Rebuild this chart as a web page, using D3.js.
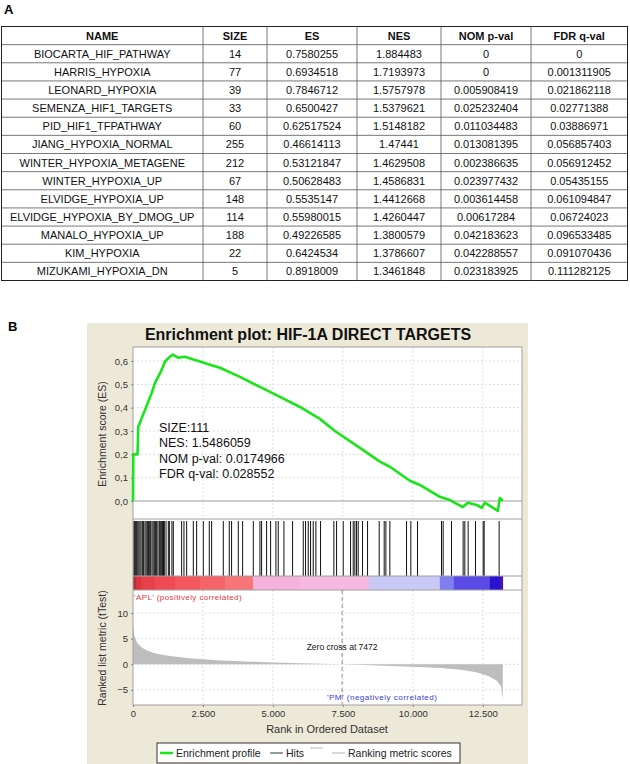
<!DOCTYPE html>
<html>
<head>
<meta charset="utf-8">
<script src="https://cdn.jsdelivr.net/npm/d3@7"></script>
<style>
  body { margin: 0; background: #fff; }
  svg { display: block; font-family: "Liberation Sans", Arial, sans-serif; }
</style>
</head>
<body>
<svg width="630" height="764"></svg>
<script>
// ---- table data (panel A)
const tableHeaders = ['NAME', 'SIZE', 'ES', 'NES', 'NOM p-val', 'FDR q-val'];
const setNames = ['BIOCARTA_HIF_PATHWAY', 'HARRIS_HYPOXIA', 'LEONARD_HYPOXIA', 'SEMENZA_HIF1_TARGETS',
  'PID_HIF1_TFPATHWAY', 'JIANG_HYPOXIA_NORMAL', 'WINTER_HYPOXIA_METAGENE', 'WINTER_HYPOXIA_UP',
  'ELVIDGE_HYPOXIA_UP', 'ELVIDGE_HYPOXIA_BY_DMOG_UP', 'MANALO_HYPOXIA_UP', 'KIM_HYPOXIA', 'MIZUKAMI_HYPOXIA_DN'];
const setSizes = [14, 77, 39, 33, 60, 255, 212, 67, 148, 114, 188, 22, 5];
const setES = [0.7580255, 0.6934518, 0.7846712, 0.6500427, 0.62517524, 0.46614113, 0.53121847,
  0.50628483, 0.5535147, 0.55980015, 0.49226585, 0.6424534, 0.8918009];
const setNES = [1.884483, 1.7193973, 1.5757978, 1.5379621, 1.5148182, 1.47441, 1.4629508,
  1.4586831, 1.4412668, 1.4260447, 1.3800579, 1.3786607, 1.3461848];
const setNomP = [0, 0, 0.005908419, 0.025232404, 0.011034483, 0.013081395, 0.002386635,
  0.023977432, 0.003614458, 0.00617284, 0.042183623, 0.042288557, 0.023183925];
const setFdrQ = [0, 0.001311905, 0.021862118, 0.02771388, 0.03886971, 0.056857403, 0.056912452,
  0.05435155, 0.061094847, 0.06724023, 0.096533485, 0.091070436, 0.111282125];

// ---- enrichment plot data (panel B)
const plotTitle = 'Enrichment plot: HIF-1A DIRECT TARGETS';
const statLines = ['SIZE:111', 'NES: 1.5486059', 'NOM p-val: 0.0174966', 'FDR q-val: 0.028552'];
const esRanks = [0, 10, 160, 190, 250, 310, 430, 546, 668, 786, 903, 1025, 1143, 1321, 1428, 1607,
  1857, 2096, 2393, 2750, 3107, 3821, 4535, 5250, 5964, 6678, 7214, 8214, 8821, 9178, 9893, 10250,
  10964, 11321, 11785, 11964, 12285, 12464, 12571, 13035, 13107, 13214];
const esScores = [0, 0.20, 0.20, 0.32, 0.335, 0.356, 0.39, 0.426, 0.463, 0.506, 0.533, 0.562, 0.598,
  0.619, 0.627, 0.614, 0.618, 0.609, 0.598, 0.584, 0.571, 0.532, 0.489, 0.446, 0.403, 0.352, 0.300,
  0.219, 0.169, 0.147, 0.087, 0.069, 0.018, 0.004, -0.026, -0.007, -0.017, -0.029, -0.007, -0.042,
  0.013, 0.001];
const hitRanks = [30, 60, 95, 131, 170, 210, 250, 290, 345, 380, 429, 470, 512, 550, 583, 630, 679,
  720, 762, 800, 845, 890, 940, 970, 1000, 1030, 1060, 1090, 1119, 1180, 1262, 1300, 1390, 1440,
  1738, 1821, 1917, 2155, 2274, 2512, 2726, 2809, 3226, 3440, 3523, 3762, 3917, 4298, 4536, 4595,
  4774, 4917, 5107, 5190, 5393, 5702, 6083, 6166, 6262, 6345, 6440, 6535, 6702, 7178, 7274, 7512,
  7774, 7869, 7928, 7988, 8047, 8202, 8381, 8797, 8976, 9036, 9178, 9774, 9928, 10167, 11024, 11083,
  11381, 11797, 11857, 11976, 12238, 12512, 12548, 13083];
const metricRanks = [0, 50, 150, 300, 500, 800, 1200, 2000, 3000, 4000, 5000, 6000, 7000, 7472,
  8000, 9000, 10000, 11000, 11800, 12300, 12700, 13000, 13150, 13214];
const metricValues = [7.5, 5.5, 4.2, 3.3, 2.7, 2.1, 1.7, 1.2, 0.8, 0.55, 0.35, 0.18, 0.06, 0,
  -0.1, -0.3, -0.5, -0.75, -1.1, -1.6, -2.3, -3.2, -4.3, -6.9];
const barRanks = [0, 107, 286, 786, 1500, 2393, 3285, 4285, 5964, 8428, 10964, 11464, 12750, 13107, 13214];
const barColors = ['#bb2c3b', '#d9353f', '#e8404a', '#f04a52', '#f3565d', '#f56468', '#f77478',
  '#f4b2dc', '#f6bae2', '#c9c9f7', '#7e7ef0', '#5a4ae6', '#2a10cf', '#4a10b2'];
const zeroCross = 7472;
const rankTicks = [0, 2500, 5000, 7500, 10000, 12500];
const esTicks = [0, 0.1, 0.2, 0.3, 0.4, 0.5, 0.6];
const metricTicks = [-5, 0, 5, 10];

const svg = d3.select('svg');
const loc = d3.formatLocale({ decimal: ',', thousands: '.', grouping: [3], currency: ['', ''] });

// ---------------- panel A: table
svg.append('text').attr('x', 4).attr('y', 14)
  .attr('font-size', 13).attr('font-weight', 'bold').text('A');

const colEdges = [1.5, 203, 267, 357, 441, 531, 627.5];
const rows = [tableHeaders].concat(setNames.map((n, i) =>
  [n, setSizes[i], setES[i], setNES[i], setNomP[i], setFdrQ[i]].map(String)));
const rowY = d3.scaleBand().domain(d3.range(rows.length)).range([26.5, 280.5]);

const tbl = svg.append('g');
tbl.append('rect').attr('x', colEdges[0]).attr('y', rowY.range()[0])
  .attr('width', colEdges[6] - colEdges[0]).attr('height', rowY.range()[1] - rowY.range()[0])
  .attr('fill', 'none').attr('stroke', '#222').attr('stroke-width', 1);
tbl.selectAll('line.h').data(d3.range(1, rows.length)).enter().append('line')
  .attr('x1', colEdges[0]).attr('x2', colEdges[6])
  .attr('y1', d => rowY(d)).attr('y2', d => rowY(d))
  .attr('stroke', '#555').attr('stroke-width', 0.8);
tbl.selectAll('line.v').data(colEdges.slice(1, 6)).enter().append('line')
  .attr('x1', d => d).attr('x2', d => d)
  .attr('y1', rowY.range()[0]).attr('y2', rowY.range()[1])
  .attr('stroke', '#555').attr('stroke-width', 0.8);
rows.forEach((r, i) => {
  tbl.selectAll(null).data(r).enter().append('text')
    .attr('x', (d, j) => (colEdges[j] + colEdges[j + 1]) / 2)
    .attr('y', rowY(i) + rowY.bandwidth() / 2)
    .attr('dy', '0.36em')
    .attr('text-anchor', 'middle')
    .attr('font-size', 11)
    .attr('font-weight', i === 0 ? 'bold' : 'normal')
    .attr('fill', '#111')
    .text(d => d);
});

// ---------------- panel B: enrichment plot
svg.append('text').attr('x', 8).attr('y', 331)
  .attr('font-size', 13).attr('font-weight', 'bold').text('B');

svg.append('rect').attr('x', 87).attr('y', 323).attr('width', 441).attr('height', 441)
  .attr('fill', '#ece9d8');
svg.append('text').attr('x', 308).attr('y', 340).attr('text-anchor', 'middle')
  .attr('font-size', 16).attr('font-weight', 'bold').attr('fill', '#111').text(plotTitle);

const left = 133, right = 522;
const esTop = 347, esBot = 519, hitBot = 576, barBot = 590, metBot = 705;

const x = d3.scaleLinear().domain([0, 13900]).range([left, right]);
const yES = d3.scaleLinear().domain([-0.077, 0.66]).range([esBot, esTop]);
const yM = d3.scaleLinear().domain([-7.95, 14.5]).range([metBot, barBot]);

svg.append('rect').attr('x', left).attr('y', esTop).attr('width', right - left)
  .attr('height', metBot - esTop).attr('fill', '#fff');

// grids
const grid = svg.append('g').attr('stroke', '#d4d4d4').attr('stroke-dasharray', '2,2').attr('stroke-width', 0.8);
grid.selectAll('line.ex').data(rankTicks.slice(1)).enter().append('line')
  .attr('x1', d => x(d)).attr('x2', d => x(d)).attr('y1', esTop).attr('y2', esBot);
grid.selectAll('line.ey').data(esTicks.slice(1)).enter().append('line')
  .attr('x1', left).attr('x2', right).attr('y1', d => yES(d)).attr('y2', d => yES(d));
grid.selectAll('line.mx').data(rankTicks.slice(1)).enter().append('line')
  .attr('x1', d => x(d)).attr('x2', d => x(d)).attr('y1', barBot).attr('y2', metBot);
grid.selectAll('line.my').data(metricTicks).enter().append('line')
  .attr('x1', left).attr('x2', right).attr('y1', d => yM(d)).attr('y2', d => yM(d));

// ES zero line
svg.append('line').attr('x1', left).attr('x2', right).attr('y1', yES(0)).attr('y2', yES(0))
  .attr('stroke', '#9a9a9a').attr('stroke-width', 1);

// metric area
svg.append('path')
  .datum(metricRanks.map((r, i) => [r, metricValues[i]]))
  .attr('fill', '#bdbdbd')
  .attr('d', d3.area().x(d => x(d[0])).y0(yM(0)).y1(d => yM(d[1])));

// zero cross
svg.append('line').attr('x1', x(zeroCross)).attr('x2', x(zeroCross)).attr('y1', barBot).attr('y2', metBot)
  .attr('stroke', '#777').attr('stroke-dasharray', '4,3').attr('stroke-width', 0.8);
svg.append('text').attr('x', x(zeroCross)).attr('y', 650).attr('text-anchor', 'middle')
  .attr('font-size', 8.5).attr('fill', '#111').text('Zero cross at ' + zeroCross);

// hits
svg.append('g').selectAll('line').data(hitRanks).enter().append('line')
  .attr('x1', d => x(d)).attr('x2', d => x(d)).attr('y1', esBot + 2).attr('y2', hitBot)
  .attr('stroke', '#111').attr('stroke-width', 1);

// colour bar
svg.append('g').selectAll('rect').data(barColors).enter().append('rect')
  .attr('x', (d, i) => x(barRanks[i]))
  .attr('width', (d, i) => x(barRanks[i + 1]) - x(barRanks[i]) + 0.3)
  .attr('y', hitBot).attr('height', barBot - hitBot)
  .attr('fill', d => d);

// panel separators and frame
svg.append('g').selectAll('line').data([esBot, hitBot, barBot]).enter().append('line')
  .attr('x1', left).attr('x2', right).attr('y1', d => d).attr('y2', d => d)
  .attr('stroke', '#a0a0a0').attr('stroke-width', 1);
svg.append('rect').attr('x', left).attr('y', esTop).attr('width', right - left)
  .attr('height', metBot - esTop).attr('fill', 'none').attr('stroke', '#a0a0a0');

// ES curve
svg.append('path')
  .datum(esRanks.map((r, i) => [r, esScores[i]]))
  .attr('fill', 'none').attr('stroke', '#19e619').attr('stroke-width', 2.6)
  .attr('stroke-linejoin', 'round')
  .attr('d', d3.line().x(d => x(d[0])).y(d => yES(d[1])));

// stats text
svg.append('g').selectAll('text').data(statLines).enter().append('text')
  .attr('x', 159).attr('y', (d, i) => 432 + i * 15.3)
  .attr('font-size', 12.5).attr('fill', '#111').text(d => d);

// correlated labels
svg.append('text').attr('x', 134).attr('y', 600).attr('font-size', 8).attr('fill', '#e8383c')
  .attr('letter-spacing', 0.4).text("'APL' (positively correlated)");
svg.append('text').attr('x', 327).attr('y', 700).attr('font-size', 8).attr('fill', '#3a3ae0')
  .attr('letter-spacing', 0.5).text("'PM' (negatively correlated)");

// axes
const styleAxis = g => {
  g.selectAll('path.domain').remove();
  g.selectAll('line').attr('stroke', '#888');
  g.selectAll('text').attr('font-size', 9.5).attr('fill', '#333')
    .attr('font-family', '"Liberation Sans", Arial, sans-serif');
};
svg.append('g').attr('transform', `translate(${left},0)`)
  .call(d3.axisLeft(yES).tickValues(esTicks).tickSize(2).tickPadding(3).tickFormat(loc.format('.1f')))
  .call(styleAxis);
svg.append('g').attr('transform', `translate(${left},0)`)
  .call(d3.axisLeft(yM).tickValues(metricTicks).tickSize(2).tickPadding(3).tickFormat(loc.format('d')))
  .call(styleAxis);
svg.append('g').attr('transform', `translate(0,${metBot})`)
  .call(d3.axisBottom(x).tickValues(rankTicks).tickSize(2).tickPadding(3).tickFormat(loc.format(',d')))
  .call(styleAxis);

// axis titles
svg.append('text').attr('transform', 'translate(106,434) rotate(-90)').attr('text-anchor', 'middle')
  .attr('font-size', 10.5).attr('fill', '#333').text('Enrichment score (ES)');
svg.append('text').attr('transform', 'translate(106,648) rotate(-90)').attr('text-anchor', 'middle')
  .attr('font-size', 10.5).attr('fill', '#333').text('Ranked list metric (tTest)');
svg.append('text').attr('x', 327).attr('y', 733).attr('text-anchor', 'middle')
  .attr('font-size', 11).attr('fill', '#333').text('Rank in Ordered Dataset');

// legend
const lg = svg.append('g');
lg.append('rect').attr('x', 157).attr('y', 743).attr('width', 303).attr('height', 20)
  .attr('fill', '#fff').attr('stroke', '#333');
const legendItems = [
  { label: 'Enrichment profile', color: '#19e619', x0: 160, w: 2.5 },
  { label: 'Hits', color: '#777', x0: 270, w: 1.5 },
  { label: 'Ranking metric scores', color: '#ccc', x0: 332, w: 1.5 }
];
legendItems.forEach(d => {
  lg.append('line').attr('x1', d.x0).attr('x2', d.x0 + 13).attr('y1', 753).attr('y2', 753)
    .attr('stroke', d.color).attr('stroke-width', d.w);
  lg.append('text').attr('x', d.x0 + 16).attr('y', 757).attr('font-size', 10.5).attr('fill', '#222')
    .text(d.label);
});
lg.append('line').attr('x1', 310).attr('x2', 323).attr('y1', 748).attr('y2', 748)
  .attr('stroke', '#bbb').attr('stroke-width', 1);
</script>
</body>
</html>
